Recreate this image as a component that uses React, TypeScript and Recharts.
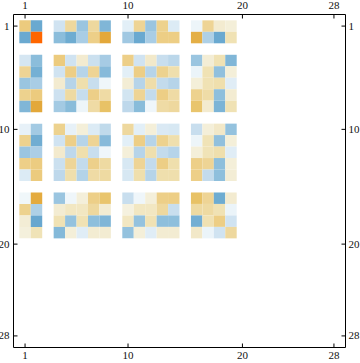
import React from "react";
import {
  ScatterChart,
  Scatter,
  XAxis,
  YAxis,
  ReferenceArea,
} from "recharts";

// matrix is 28 x 28, only these rows / columns hold non-zero values
const activeRows = [1, 2, 4, 5, 6, 7, 8, 10, 11, 12, 13, 14, 16, 17, 18, 19];
const activeCols = [1, 2, 4, 5, 6, 7, 8, 10, 11, 12, 13, 14, 16, 17, 18, 19];
const tickValues = [1, 10, 20, 28];
const matrixSize = 28;

// one array per active row, values per active column
const row1 = [0.45, -0.6, -0.2, 0.35, -0.4, 0.35, -0.5, -0.12, 0.38, -0.4, 0.4, -0.15, -0.07, 0.38, 0.15, 0.1];
const row2 = [-0.6, 1.0, -0.45, -0.58, -0.35, 0.42, 0.7, -0.38, -0.6, -0.35, 0.43, 0.43, 0.65, -0.33, -0.6, 0.25];
const row4 = [-0.18, -0.45, 0.45, -0.2, 0.15, -0.22, -0.36, 0.42, -0.2, 0.17, -0.23, -0.28, -0.4, 0.12, 0.25, -0.5];
const row5 = [0.38, -0.55, -0.2, 0.43, -0.3, 0.38, -0.47, -0.12, 0.43, -0.3, 0.4, 0.28, -0.08, 0.25, -0.43, 0.1];
const row6 = [-0.4, -0.35, 0.15, -0.3, 0.28, -0.23, -0.06, 0.12, -0.3, 0.3, -0.25, -0.3, 0.1, 0.25, 0.28, -0.13];
const row7 = [0.4, 0.45, -0.21, 0.33, -0.24, 0.42, 0.32, -0.19, 0.38, -0.25, 0.43, 0.32, 0.4, 0.31, -0.44, 0.14];
const row8 = [-0.5, 0.7, -0.37, -0.46, -0.07, 0.32, 0.52, -0.27, -0.46, -0.06, 0.32, 0.35, 0.5, 0.15, -0.52, 0.25];
const row10 = [-0.1, -0.37, 0.4, -0.1, 0.1, -0.15, -0.26, 0.35, -0.12, 0.1, -0.16, -0.17, -0.23, 0.1, 0.18, -0.42];
const row11 = [0.4, -0.57, -0.2, 0.42, -0.3, 0.38, -0.47, -0.12, 0.43, -0.3, 0.4, 0.28, -0.07, 0.24, -0.43, 0.1];
const row12 = [-0.4, -0.34, 0.16, -0.27, 0.28, -0.23, -0.06, 0.1, -0.3, 0.28, -0.25, -0.3, 0.1, 0.24, 0.28, -0.13];
const row13 = [0.42, 0.44, -0.22, 0.37, -0.25, 0.41, 0.33, -0.17, 0.38, -0.25, 0.43, 0.28, 0.42, 0.38, -0.44, 0.1];
const row14 = [-0.15, 0.45, -0.27, 0.28, -0.31, 0.32, 0.33, -0.17, 0.28, -0.3, 0.28, 0.28, 0.42, -0.25, -0.44, 0.12];
const row16 = [-0.05, 0.68, -0.4, -0.06, 0.09, 0.42, 0.5, -0.23, -0.06, 0.09, 0.42, 0.43, 0.52, 0.38, -0.58, 0.15];
const row17 = [0.4, -0.33, 0.14, 0.2, 0.2, 0.35, 0.14, 0.06, 0.2, 0.2, 0.35, -0.23, 0.33, 0.33, 0.25, -0.08];
const row18 = [0.12, -0.62, 0.25, -0.42, 0.25, -0.44, -0.5, 0.2, -0.42, 0.25, -0.44, -0.44, -0.56, 0.26, 0.43, -0.2];
const row19 = [0.08, 0.24, -0.48, 0.1, -0.13, 0.14, 0.14, -0.42, 0.1, -0.13, 0.14, 0.14, 0.18, -0.08, -0.2, 0.35];

const matrixRows = [row1, row2, row4, row5, row6, row7, row8, row10, row11, row12, row13, row14, row16, row17, row18, row19];

// colour stops: blue for negative, cream -> gold -> orange for positive
const negStops: [number, number[]][] = [
  [0, [246, 250, 252]],
  [0.06, [239, 246, 250]],
  [0.15, [220, 235, 245]],
  [0.25, [195, 219, 236]],
  [0.35, [169, 205, 229]],
  [0.45, [139, 189, 219]],
  [0.6, [106, 169, 208]],
  [1, [60, 130, 185]],
];
const posStops: [number, number[]][] = [
  [0, [246, 244, 232]],
  [0.08, [244, 240, 220]],
  [0.15, [243, 235, 208]],
  [0.25, [240, 226, 180]],
  [0.35, [238, 216, 158]],
  [0.42, [237, 207, 136]],
  [0.52, [232, 194, 102]],
  [0.7, [227, 168, 58]],
  [1, [255, 102, 0]],
];

function interp(stops: [number, number[]][], t: number) {
  for (let i = 1; i < stops.length; i++) {
    if (t <= stops[i][0]) {
      const [t0, c0] = stops[i - 1];
      const [t1, c1] = stops[i];
      const f = (t - t0) / (t1 - t0);
      const c = c0.map((v, k) => Math.round(v + (c1[k] - v) * f));
      return `rgb(${c[0]},${c[1]},${c[2]})`;
    }
  }
  const c = stops[stops.length - 1][1];
  return `rgb(${c[0]},${c[1]},${c[2]})`;
}

function cellColor(v: number) {
  return v < 0 ? interp(negStops, -v) : interp(posStops, v);
}

const cells = matrixRows.flatMap((vals, ri) =>
  vals.map((v, ci) => ({ row: activeRows[ri], col: activeCols[ci], value: v }))
);

const domain: [number, number] = [-0.01, matrixSize + 1.01];
const font = { fontFamily: "'Liberation Serif', serif", fontSize: 11, fill: "#111" };

const TopTick = (props: any) => {
  const { x, y, payload } = props;
  return (
    <g>
      <line x1={x} x2={x} y1={y} y2={y + 4} stroke="#000" />
      <text x={x} y={y - 6} textAnchor="middle" {...font}>{payload.value}</text>
    </g>
  );
};
const BottomTick = (props: any) => {
  const { x, y, payload } = props;
  return (
    <g>
      <line x1={x} x2={x} y1={y - 4} y2={y} stroke="#000" />
      <text x={x} y={y + 11} textAnchor="middle" {...font}>{payload.value}</text>
    </g>
  );
};
const LeftTick = (props: any) => {
  const { x, y, payload } = props;
  return (
    <g>
      <line x1={x} x2={x + 4} y1={y} y2={y} stroke="#000" />
      <text x={x - 4} y={y + 3.5} textAnchor="end" {...font}>{payload.value}</text>
    </g>
  );
};
const RightTick = (props: any) => {
  const { x, y, payload } = props;
  return (
    <g>
      <line x1={x - 4} x2={x} y1={y} y2={y} stroke="#000" />
      <text x={x + 3} y={y + 3.5} textAnchor="start" {...font}>{payload.value}</text>
    </g>
  );
};

export default function App() {
  return (
    <div style={{ position: "absolute", left: 0, top: 0, background: "#fff" }}>
      <ScatterChart width={360} height={363} margin={{ top: 0, right: 0, bottom: 0, left: 0 }}>
        <XAxis
          xAxisId="top"
          orientation="top"
          type="number"
          dataKey="col"
          domain={domain}
          ticks={tickValues}
          interval={0}
          height={14.5}
          tickSize={0}
          tickMargin={0}
          tick={<TopTick />}
          axisLine={{ stroke: "#000" }}
          allowDataOverflow
        />
        <XAxis
          xAxisId="bottom"
          orientation="bottom"
          type="number"
          dataKey="col"
          domain={domain}
          ticks={tickValues}
          interval={0}
          height={15.5}
          tickSize={0}
          tickMargin={0}
          tick={<BottomTick />}
          axisLine={{ stroke: "#000" }}
          allowDataOverflow
        />
        <YAxis
          yAxisId="left"
          orientation="left"
          type="number"
          dataKey="row"
          domain={domain}
          reversed
          ticks={tickValues}
          interval={0}
          width={13.5}
          tickSize={0}
          tickMargin={0}
          tick={<LeftTick />}
          axisLine={{ stroke: "#000" }}
          allowDataOverflow
        />
        <YAxis
          yAxisId="right"
          orientation="right"
          type="number"
          dataKey="row"
          domain={domain}
          reversed
          ticks={tickValues}
          interval={0}
          width={14.5}
          tickSize={0}
          tickMargin={0}
          tick={<RightTick />}
          axisLine={{ stroke: "#000" }}
          allowDataOverflow
        />
        {cells.map((c) => (
          <ReferenceArea
            key={`${c.row}-${c.col}`}
            xAxisId="bottom"
            yAxisId="left"
            x1={c.col - 0.5}
            x2={c.col + 0.5}
            y1={c.row - 0.5}
            y2={c.row + 0.5}
            fill={cellColor(c.value)}
            fillOpacity={1}
            stroke="none"
          />
        ))}
        <Scatter
          xAxisId="bottom"
          yAxisId="left"
          data={cells}
          isAnimationActive={false}
          shape={() => <g />}
        />
      </ScatterChart>
    </div>
  );
}
